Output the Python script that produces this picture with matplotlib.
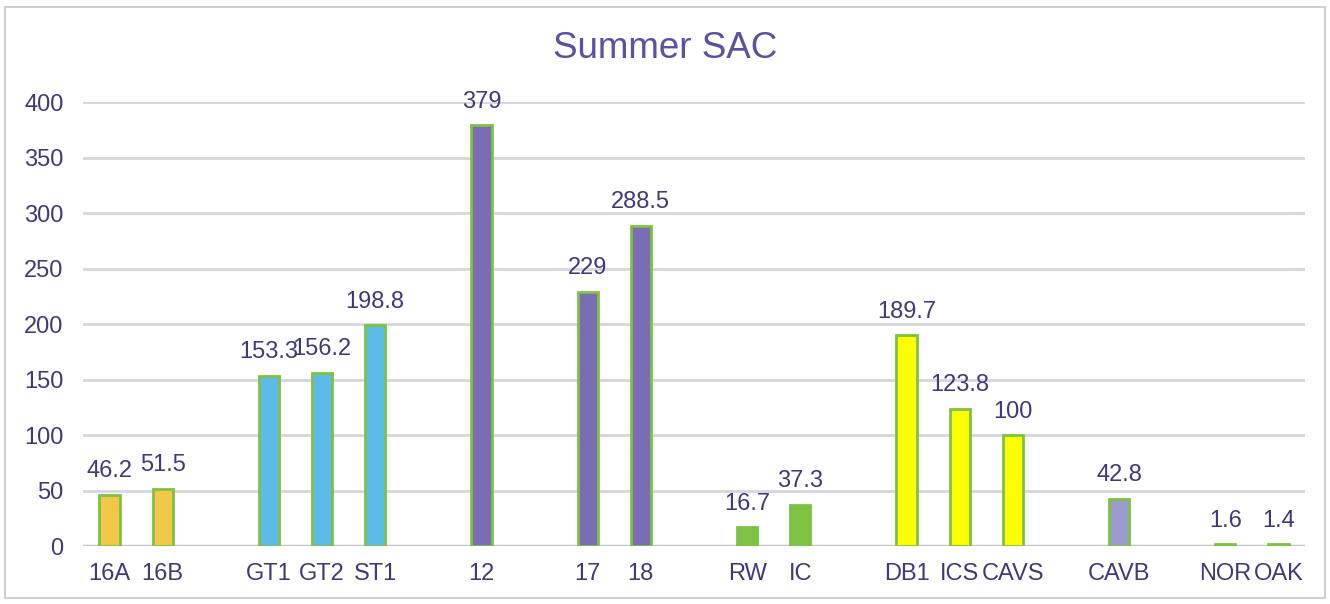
import numpy as np
import matplotlib
matplotlib.use('Agg')
import matplotlib.pyplot as plt
from matplotlib.patches import Rectangle

# **** data ****
# blank names are empty category slots (gaps between site groups)
categories = ['16A', '16B', '', 'GT1', 'GT2', 'ST1', '', '12', '', '17', '18', '',
              'RW', 'IC', '', 'DB1', 'ICS', 'CAVS', '', 'CAVB', '', 'NOR', 'OAK']
values = [46.2, 51.5, np.nan, 153.3, 156.2, 198.8, np.nan, 379, np.nan, 229, 288.5, np.nan,
          16.7, 37.3, np.nan, 189.7, 123.8, 100, np.nan, 42.8, np.nan, 1.6, 1.4]
labels = ['46.2', '51.5', '', '153.3', '156.2', '198.8', '', '379', '', '229', '288.5', '',
          '16.7', '37.3', '', '189.7', '123.8', '100', '', '42.8', '', '1.6', '1.4']

# bar fill colours by group
orange, blue, purple = '#F2C84B', '#5DBBEA', '#7A6DB6'
green, yellow, lav, tan = '#7DC242', '#FFFF00', '#9D9BCB', '#E8D48A'
fills = [orange, orange, 'none', blue, blue, blue, 'none', purple, 'none', purple, purple, 'none',
         green, green, 'none', yellow, yellow, yellow, 'none', lav, 'none', tan, tan]

text_col = '#3E3B78'
grid_col = '#D6D6E0'

plt.rcParams['font.family'] = ['Liberation Sans', 'DejaVu Sans']

fig = plt.figure(figsize=(13.3, 6.04), dpi=100)
fig.patches.append(Rectangle((5 / 1330, 1 - 598 / 604), 1320 / 1330, 591 / 604,
                             transform=fig.transFigure, fill=False,
                             edgecolor='#D0D0D0', linewidth=1.5))

ax = fig.add_axes([0.0624, 0.096, 0.9188, 0.735])
x = np.arange(len(categories))
vals = np.array(values, dtype=float)
has = ~np.isnan(vals)
ax.bar(x[has], vals[has], width=0.38, color=[f for f, h in zip(fills, has) if h],
       edgecolor=green, linewidth=2, zorder=3)

for xi, v, lab in zip(x[has], vals[has], np.array(labels)[has]):
    ax.annotate(lab, (xi, v), xytext=(0, 9), textcoords='offset points',
                ha='center', va='bottom', fontsize=17, color=text_col,
                annotation_clip=False, zorder=4)

ax.set_xlim(-0.5, len(categories) - 0.5)
ax.set_ylim(0, 400)
ax.set_yticks(np.arange(0, 401, 50))
ax.set_xticks(x)
ax.set_xticklabels(categories)
ax.tick_params(axis='both', length=0, labelsize=17, labelcolor=text_col)
ax.tick_params(axis='x', pad=12)
ax.tick_params(axis='y', pad=14)

ax.grid(axis='y', color=grid_col, linewidth=2, zorder=0)
for s in ax.spines.values():
    s.set_visible(False)
ax.axhline(0, color='#C6C6D2', linewidth=2.5, zorder=2)

fig.text(0.5, 1 - 48 / 604, 'Summer SAC', ha='center', va='center',
         fontsize=26.5, color='#5E4FA2')

fig.savefig('out.png', dpi=100)
